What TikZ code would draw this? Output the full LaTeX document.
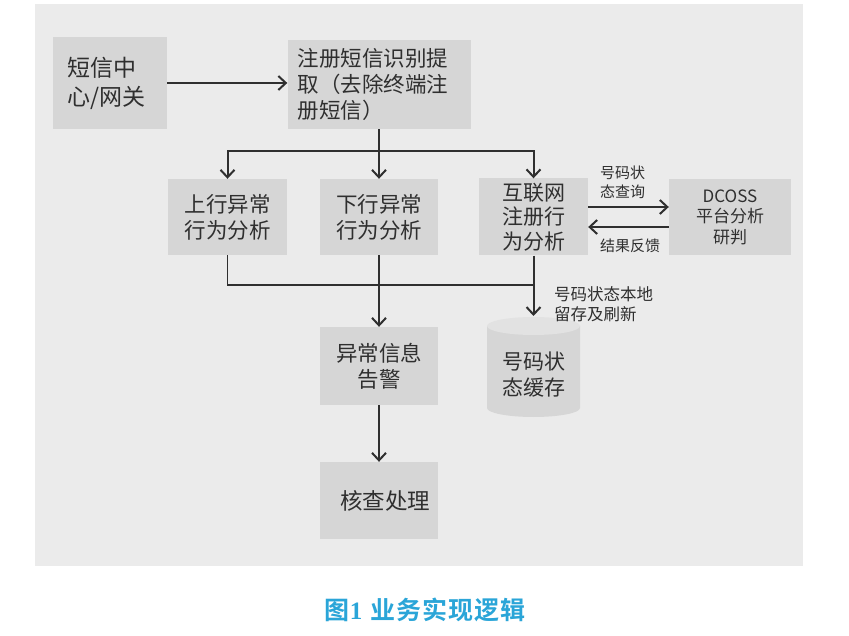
\documentclass[tikz,border=0pt]{standalone}
\usepackage{fontspec}
\setmainfont{Noto Sans CJK SC}[BoldFont={Noto Sans CJK SC Bold}]
\usetikzlibrary{arrows.meta}
\definecolor{panel}{HTML}{EBEBEB}
\definecolor{boxfill}{HTML}{D6D6D6}
\definecolor{ink}{HTML}{2F2F2F}
\definecolor{capcol}{HTML}{2AA5D8}
\definecolor{cyltopcol}{HTML}{E2E2E2}
\begin{document}
\begin{tikzpicture}[x=1pt,y=-1pt,
  box/.style={fill=boxfill, inner sep=0pt, text=ink, font=\fontsize{21.5}{26}\selectfont, align=center},
  lbl/.style={text=ink, font=\fontsize{15}{19}\selectfont, align=left, inner sep=0pt},
  arr/.style={draw=ink, line width=2pt, -{Straight Barb[length=7.5pt,width=14pt]}},
  ln/.style={draw=ink, line width=1.6pt}]
\useasboundingbox (0,0) rectangle (849,636);
\fill[white] (0,0) rectangle (849,636);
\fill[panel] (35,4) rectangle (803,566);

% boxes
\node[box, minimum width=114pt, minimum height=92pt, text width=86pt, align=left,
      font=\fontsize{23}{29}\selectfont] (gw) at (110,83) {短信中\\心/网关};
\node[box, minimum width=183pt, minimum height=89pt, text width=163pt, align=left] (reg) at (379,84.5)
  {注册短信识别提\\取（去除终端注\\册短信）};
\node[box, minimum width=119pt, minimum height=76pt] (up) at (227.5,217) {上行异常\\行为分析};
\node[box, minimum width=118pt, minimum height=76pt] (down) at (379,217) {下行异常\\行为分析};
\node[box, minimum width=109pt, minimum height=77pt, font=\fontsize{21}{24.5}\selectfont] (web) at (533.5,217) {互联网\\注册行\\为分析};
\node[box, minimum width=122pt, minimum height=76pt, font=\fontsize{17}{20.5}\selectfont] (dc) at (730,217) {DCOSS\\平台分析\\研判};
\node[box, minimum width=118pt, minimum height=78pt] (al) at (379,366) {异常信息\\告警};
\node[box, minimum width=118pt, minimum height=77pt, font=\fontsize{22.5}{27}\selectfont] (chk) at (379,500.5) {\hspace*{12pt}核查处理};

% cylinder
\fill[boxfill] (487,326) -- (487,408) arc[start angle=180, end angle=0, x radius=46.5, y radius=9] -- (580,326) -- cycle;
\fill[cyltopcol] (533.5,326) ellipse[x radius=46.5, y radius=9];
\node[text=ink, font=\fontsize{21}{26}\selectfont, align=center, inner sep=0pt] (cyl) at (533.5,375) {号码状\\态缓存};
\coordinate (cyltopc) at (533.5,316);

% junctions
\coordinate (j1) at (379,151);
\coordinate (j2) at (533.5,285);

% connectors
\draw[arr] (gw.east |- 0,83) -- (reg.west |- 0,83);
\draw[arr] (reg.south) -- (down.north);
\draw[arr] (j1) -| (up.north);
\draw[arr] (j1) -| (web.north);
\draw[arr] ([yshift=10pt]web.east) -- ([yshift=10pt]dc.west);
\draw[arr] ([yshift=-10pt]dc.west) -- ([yshift=-10pt]web.east);
\draw[ln] (up.south) |- (j2);
\draw[arr] (down.south) -- (al.north);
\draw[arr] (web.south) -- (cyltopc);
\draw[arr] (al.south) -- (chk.north);

% labels
\node[lbl, anchor=west] (q) at (600,182) {号码状\\态查询};
\node[lbl, anchor=west] (fb) at (600,246) {结果反馈};
\node[lbl, anchor=west, font=\fontsize{16.5}{20}\selectfont] (st) at (554,304) {号码状态本地\\留存及刷新};

% caption
\node[text=capcol, font=\bfseries\fontsize{25}{30}\selectfont, inner sep=0pt] (cap) at (425,610)
  {图{\fontspec{Liberation Serif}[BoldFont={Liberation Serif Bold}]1}\hspace{8pt}业\hspace{1pt}务\hspace{1pt}实\hspace{1pt}现\hspace{1pt}逻\hspace{1pt}辑};
\end{tikzpicture}
\end{document}
